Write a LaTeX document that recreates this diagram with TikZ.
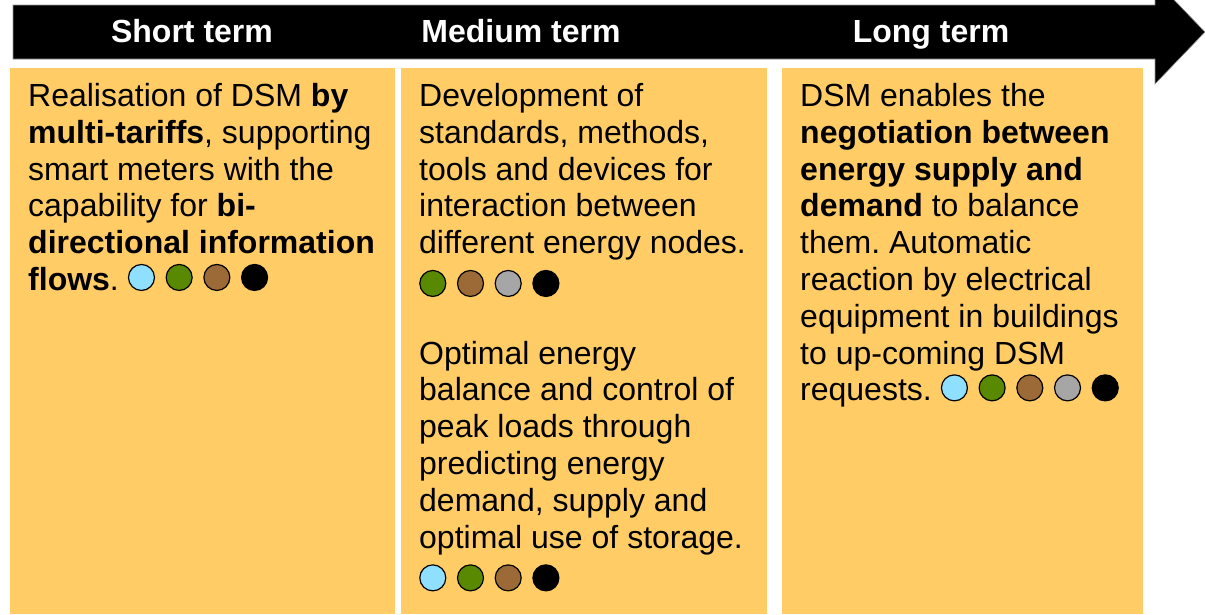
\documentclass[tikz,border=0pt]{standalone}
\usepackage{fontspec}
\setmainfont{Liberation Sans}
\frenchspacing
\definecolor{boxfill}{RGB}{255,204,102}
\definecolor{cblue}{RGB}{143,223,255}
\definecolor{cgreen}{RGB}{89,137,0}
\definecolor{cbrown}{RGB}{155,106,54}
\definecolor{cgray}{RGB}{166,166,166}
\definecolor{arrowedge}{RGB}{150,150,150}
\newcommand\dotc[2][13]{\tikz[baseline=0pt]\draw[line width=1.2pt,fill=#2](0pt,#1pt) circle[radius=13pt];}
\newcommand\dgap{\hspace{10.5pt}}
\tikzset{
  box/.style={fill=boxfill, draw=none, anchor=north west, inner sep=0pt},
  head/.style={text=white, font={\fontsize{32}{36.8}\selectfont\bfseries}, inner sep=0pt, anchor=base},
  body/.style={anchor=north west, inner sep=0pt, align=left, font={\fontsize{32}{36.8}\selectfont}}
}
\begin{document}
\begin{tikzpicture}[x=1pt,y=-1pt]
\useasboundingbox (0,0) rectangle (1205,614);
% timeline arrow
\draw[fill=black, draw=arrowedge, line width=0.6pt]
  (13,5) -- (1155,5) -- (1155,-20) -- (1205,32) -- (1155,84) -- (1155,59) -- (13,59) -- cycle;
\node[head] (h1) at (192,42.5) {Short term};
\node[head] (h2) at (521,42.5) {Medium term};
\node[head] (h3) at (931,42.5) {Long term};
% boxes
\node[box, minimum width=385pt, minimum height=546pt] (b1) at (10,68) {};
\node[box, minimum width=366pt, minimum height=546pt] (b2) at (401,68) {};
\node[box, minimum width=361pt, minimum height=546pt] (b3) at (782,68) {};
% texts
\node[body] (t1) at (28,80.5) {\strut Realisation of DSM \textbf{by}\\
\textbf{multi-tariffs}, supporting\\
smart meters with the\\
capability for \textbf{bi-}\\
\textbf{directional information}\\
\textbf{flows}.\hspace{9pt}\dotc{cblue}\dgap\dotc{cgreen}\dgap\dotc{cbrown}\dgap\dotc{black}};
\node[body] (t2) at (419,80.5) {\strut Development of\\
standards, methods,\\
tools and devices for\\
interaction between\\
different energy nodes.\\
\dotc[7]{cgreen}\dgap\dotc[7]{cbrown}\dgap\dotc[7]{cgray}\dgap\dotc[7]{black}\\
\strut\\
Optimal energy\\
balance and control of\\
peak loads through\\
predicting energy\\
demand, supply and\\
optimal use of storage.\\
\dotc[7]{cblue}\dgap\dotc[7]{cgreen}\dgap\dotc[7]{cbrown}\dgap\dotc[7]{black}};
\node[body] (t3) at (800,80.5) {\strut DSM enables the\\
\textbf{negotiation between}\\
\textbf{energy supply and}\\
\textbf{demand} to balance\\
them. Automatic\\
reaction by electrical\\
equipment in buildings\\
to up-coming DSM\\
requests.\hspace{9pt}\dotc{cblue}\dgap\dotc{cgreen}\dgap\dotc{cbrown}\dgap\dotc{cgray}\dgap\dotc{black}};
\end{tikzpicture}
\end{document}
